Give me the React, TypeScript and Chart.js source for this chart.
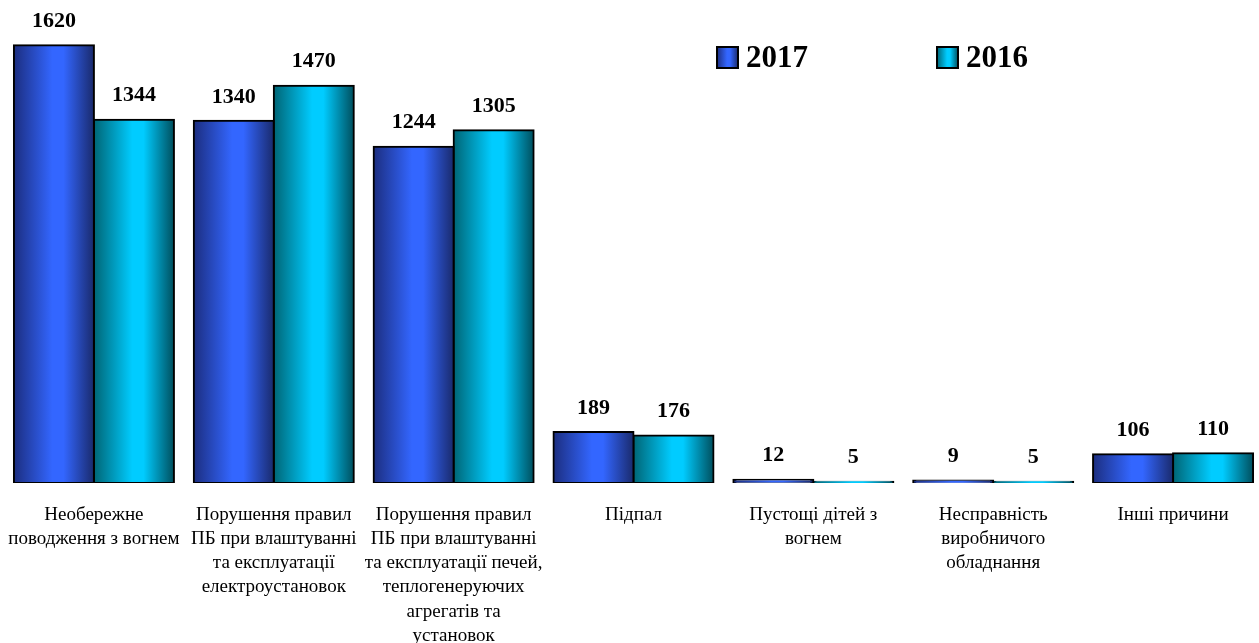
import React, { useEffect, useRef } from "react";
import { Chart, registerables } from "chart.js";

Chart.register(...registerables);

const categories: string[][] = [
  ["Необережне", "поводження з вогнем"],
  ["Порушення правил", "ПБ при влаштуванні", "та експлуатації", "електроустановок"],
  ["Порушення правил", "ПБ при влаштуванні", "та експлуатації печей,", "теплогенеруючих", "агрегатів та", "установок"],
  ["Підпал"],
  ["Пустощі дітей з", "вогнем"],
  ["Несправність", "виробничого", "обладнання"],
  ["Інші причини"],
];

const series2017: number[] = [1620, 1340, 1244, 189, 12, 9, 106];
const series2016: number[] = [1344, 1470, 1305, 176, 5, 5, 110];
const seriesLabels: string[] = ["2017", "2016"];

const CAT_PCT = 0.8897;
const FONT = "'Liberation Serif', 'Times New Roman', serif";

const palettes = [
  { dark1: "#1c2e80", bright: "#3366ff", dark2: "#1a2a6c" },
  { dark1: "#006575", bright: "#00ccff", dark2: "#004f5e" },
];

function makeGrad(ctx2d: CanvasRenderingContext2D, x0: number, x1: number, p: { dark1: string; bright: string; dark2: string }) {
  const g = ctx2d.createLinearGradient(x0, 0, x1, 0);
  g.addColorStop(0, p.dark1);
  g.addColorStop(0.48, p.bright);
  g.addColorStop(0.62, p.bright);
  g.addColorStop(1, p.dark2);
  return g;
}

function barFill(dsIndex: number) {
  return (c: any) => {
    const chart = c.chart;
    const xs = chart.scales && chart.scales.x;
    if (!xs || c.dataIndex === undefined || !chart.chartArea) return palettes[dsIndex].bright;
    const center = xs.getPixelForValue(c.dataIndex);
    const catW = xs.width / categories.length;
    const bw = (catW * CAT_PCT) / 2;
    const x0 = dsIndex === 0 ? center - bw : center;
    return makeGrad(chart.ctx, x0, x0 + bw, palettes[dsIndex]);
  };
}

const overlayPlugin = {
  id: "overlay",
  afterDatasetsDraw(chart: any) {
    const ctx = chart.ctx as CanvasRenderingContext2D;
    ctx.save();
    ctx.fillStyle = "#000";
    ctx.font = `bold 22px ${FONT}`;
    ctx.textAlign = "center";
    ctx.textBaseline = "middle";
    chart.data.datasets.forEach((ds: any, di: number) => {
      const meta = chart.getDatasetMeta(di);
      meta.data.forEach((el: any, i: number) => {
        ctx.fillText(String(ds.data[i]), el.x, el.y - 24);
      });
    });
    // legend
    const legendX = [717, 937];
    ctx.font = `bold 31px ${FONT}`;
    ctx.textAlign = "left";
    chart.data.datasets.forEach((ds: any, di: number) => {
      const x = legendX[di];
      const y = 47;
      const s = 21;
      ctx.fillStyle = makeGrad(ctx, x, x + s, palettes[di]);
      ctx.fillRect(x, y, s, s);
      ctx.lineWidth = 2;
      ctx.strokeStyle = "#000";
      ctx.strokeRect(x, y, s, s);
      ctx.fillStyle = "#000";
      ctx.fillText(ds.label, x + s + 8, y + s / 2 + 1);
    });
    ctx.restore();
  },
};

export default function App() {
  const ref = useRef<HTMLCanvasElement>(null);
  useEffect(() => {
    document.body.style.margin = "0";
    document.body.style.overflow = "hidden";
    const chart = new Chart(ref.current!, {
      type: "bar",
      data: {
        labels: categories,
        datasets: [
          {
            label: seriesLabels[0],
            data: series2017,
            backgroundColor: barFill(0),
            borderColor: "#000",
            borderWidth: 2,
            borderSkipped: false,
            inflateAmount: 1,
          },
          {
            label: seriesLabels[1],
            data: series2016,
            backgroundColor: barFill(1),
            borderColor: "#000",
            borderWidth: 2,
            borderSkipped: false,
            inflateAmount: 1,
          },
        ],
      },
      options: {
        animation: false,
        responsive: false,
        maintainAspectRatio: false,
        layout: { padding: { left: 4, right: 5, top: 0, bottom: 0 } },
        datasets: { bar: { categoryPercentage: CAT_PCT, barPercentage: 1 } },
        plugins: { legend: { display: false }, tooltip: { enabled: false } },
        scales: {
          x: {
            grid: { display: false, drawTicks: false },
            border: { display: false },
            ticks: {
              autoSkip: false,
              maxRotation: 0,
              minRotation: 0,
              padding: 20,
              color: "#000",
              font: { family: FONT, size: 19, lineHeight: 1.27 },
            },
            afterFit: (s: any) => {
              s.height = 160;
              s.paddingLeft = 0;
              s.paddingRight = 0;
            },
          },
          y: {
            display: false,
            min: 0,
            max: 1787,
          },
        },
      },
      plugins: [overlayPlugin],
    });
    return () => chart.destroy();
  }, []);
  return (
    <div style={{ width: 1259, height: 643, overflow: "hidden", background: "#fff" }}>
      <canvas ref={ref} width={1268} height={643} style={{ display: "block", width: 1268, height: 643 }} />
    </div>
  );
}
